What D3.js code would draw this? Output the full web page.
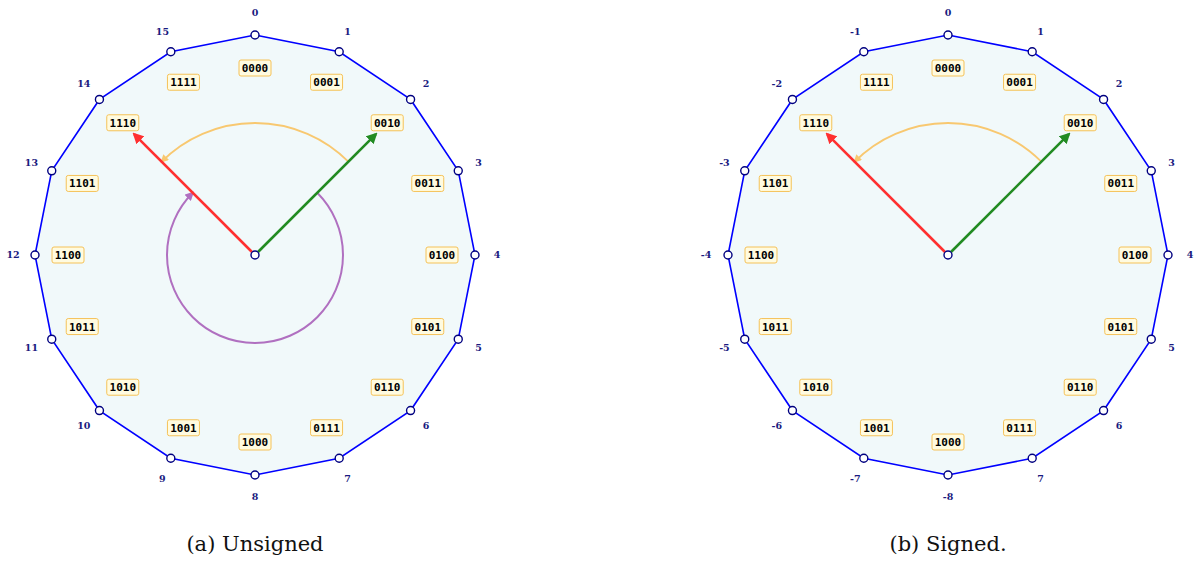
<!DOCTYPE html>
<html>
<head>
<meta charset="utf-8">
<script src="https://cdn.jsdelivr.net/npm/d3@7"></script>
<style>
  html, body { margin: 0; padding: 0; background: #fff; }
  svg { display: block; }
  .serif { font-family: 'DejaVu Serif', serif; }
  .mono { font-family: 'DejaVu Sans Mono', 'Liberation Mono', monospace; }
</style>
</head>
<body>
<svg id="chart" width="1199" height="561"></svg>
<script>
// Four-bit number wheel: 16 positions, unsigned and two's-complement readings.
const positions = d3.range(16);
const unsignedLabels = ["0","1","2","3","4","5","6","7","8","9","10","11","12","13","14","15"];
const signedLabels = ["0","1","2","3","4","5","6","7","-8","-7","-6","-5","-4","-3","-2","-1"];
const binaryCodes = ["0000","0001","0010","0011","0100","0101","0110","0111",
                     "1000","1001","1010","1011","1100","1101","1110","1111"];
const startPos = 2;   // green arrow
const endPos = 14;    // red arrow
const panels = [
  { cx: 255, labels: unsignedLabels, caption: "(a) Unsigned", showWrap: true },
  { cx: 948, labels: signedLabels, caption: "(b) Signed.", showWrap: false }
];

const svg = d3.select("#chart");
const cy = 255;
const R = 220, rNum = 242, rBin = 187, rArrow = 171, rTop = 132, rWrap = 88;

const angle = d3.scaleLinear().domain([0, 16]).range([0, 2 * Math.PI]);
const px = (cx, a, r) => cx + r * Math.sin(a);
const py = (a, r) => cy - r * Math.cos(a);

const defs = svg.append("defs");
function marker(id, color, size) {
  defs.append("marker")
    .attr("id", id)
    .attr("viewBox", "0 0 10 10")
    .attr("refX", 8).attr("refY", 5)
    .attr("markerWidth", size).attr("markerHeight", size)
    .attr("markerUnits", "userSpaceOnUse")
    .attr("orient", "auto")
    .append("path")
    .attr("d", "M0,0 L10,5 L0,10 z")
    .attr("fill", color);
}
marker("headRed", "#ff3030", 11);
marker("headGreen", "#228b22", 11);
marker("headOrange", "#f8c870", 8);
marker("headPurple", "#b070c0", 9);

panels.forEach(p => {
  const g = svg.append("g");
  const cx = p.cx;

  // polygon
  const line = d3.line().curve(d3.curveLinearClosed);
  g.append("path")
    .attr("d", line(positions.map(i => [px(cx, angle(i), R), py(angle(i), R)])))
    .attr("fill", "#f1f9fa")
    .attr("stroke", "#0000ff")
    .attr("stroke-width", 1.6);

  // bit-pattern badges
  const bin = g.selectAll("g.bin").data(positions).join("g")
    .attr("transform", i => `translate(${px(cx, angle(i), rBin)},${py(angle(i), rBin)})`);
  bin.append("rect")
    .attr("x", -16).attr("y", -8).attr("width", 32).attr("height", 16)
    .attr("rx", 2)
    .attr("fill", "#fffbe0")
    .attr("stroke", "#f5c258")
    .attr("stroke-width", 1);
  bin.append("text")
    .attr("class", "mono")
    .attr("text-anchor", "middle")
    .attr("dy", "0.36em")
    .attr("font-weight", "bold")
    .attr("font-size", 11)
    .attr("fill", "#000")
    .text(i => binaryCodes[i]);

  // value labels
  g.selectAll("text.num").data(positions).join("text")
    .attr("class", "serif")
    .attr("x", i => px(cx, angle(i), rNum))
    .attr("y", i => py(angle(i), rNum))
    .attr("dy", "0.35em")
    .attr("text-anchor", "middle")
    .attr("font-weight", "bold")
    .attr("font-size", 9.5)
    .attr("fill", "#1a1a80")
    .text(i => p.labels[i]);

  // arc from start to end over the top
  const a0 = angle(startPos) - Math.PI / 2;
  const a1 = angle(endPos) - Math.PI / 2;
  const top = d3.path();
  top.arc(cx, cy, rTop, a0, a1, true);
  g.append("path")
    .attr("d", top.toString())
    .attr("fill", "none")
    .attr("stroke", "#f8c870")
    .attr("stroke-width", 1.8)
    .attr("marker-end", "url(#headOrange)");

  // wrap-around arc the long way
  if (p.showWrap) {
    const wrap = d3.path();
    wrap.arc(cx, cy, rWrap, a0, a1, false);
    g.append("path")
      .attr("d", wrap.toString())
      .attr("fill", "none")
      .attr("stroke", "#b070c0")
      .attr("stroke-width", 2)
      .attr("marker-end", "url(#headPurple)");
  }

  // arrows
  [[startPos, "#228b22", "headGreen"], [endPos, "#ff3030", "headRed"]].forEach(([pos, col, m]) => {
    g.append("line")
      .attr("x1", cx).attr("y1", cy)
      .attr("x2", px(cx, angle(pos), rArrow))
      .attr("y2", py(angle(pos), rArrow))
      .attr("stroke", col)
      .attr("stroke-width", 2.6)
      .attr("marker-end", `url(#${m})`);
  });

  // vertices and centre
  g.selectAll("circle.v").data(positions).join("circle")
    .attr("cx", i => px(cx, angle(i), R))
    .attr("cy", i => py(angle(i), R))
    .attr("r", 4)
    .attr("fill", "#fff")
    .attr("stroke", "#000080")
    .attr("stroke-width", 1.4);
  g.append("circle")
    .attr("cx", cx).attr("cy", cy).attr("r", 4)
    .attr("fill", "#fff")
    .attr("stroke", "#000080")
    .attr("stroke-width", 1.4);

  // caption
  svg.append("text")
    .attr("class", "serif")
    .attr("x", cx).attr("y", 551)
    .attr("text-anchor", "middle")
    .attr("font-size", 21)
    .attr("fill", "#111")
    .text(p.caption);
});
</script>
</body>
</html>
